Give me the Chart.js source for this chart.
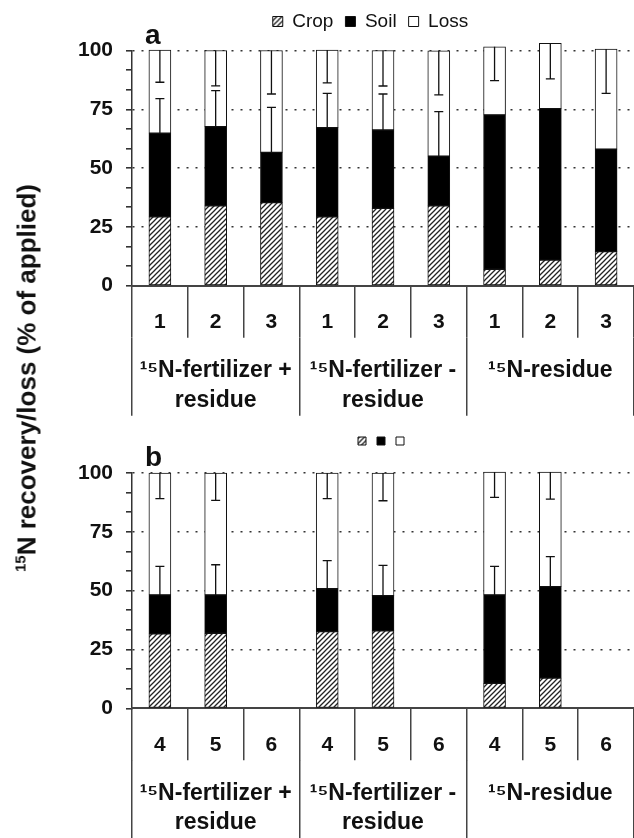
<!DOCTYPE html>
<html>
<head>
<meta charset="utf-8">
<script src="https://cdn.jsdelivr.net/npm/chart.js@4"></script>
<style>
  body { margin: 0; background: #fff; }
  #wrap { position: relative; width: 634px; height: 838px; overflow: hidden; }
  #wrap canvas { position: absolute; left: 0; }
  #ytitle {
    position: absolute; left: 27px; top: 378px;
    transform: translate(-50%, -50%) rotate(-90deg);
    white-space: nowrap; color: #111;
    font: bold 26px "Liberation Sans", Arial, sans-serif;
  }
  #ytitle sup { font-size: 15px; vertical-align: 10px; }
</style>
</head>
<body>
<div id="wrap">
  <canvas id="chartA" width="634" height="419" style="top:0"></canvas>
  <canvas id="chartB" width="634" height="417" style="top:421px"></canvas>
  <div id="ytitle"><sup>15</sup>N recovery/loss (% of applied)</div>
</div>
<script>
// ---- data ----
const seriesNames = ["Crop", "Soil", "Loss"];
const catsA = ["1", "2", "3", "1", "2", "3", "1", "2", "3"];
const catsB = ["4", "5", "6", "4", "5", "6", "4", "5", "6"];
const groups = [["¹⁵N-fertilizer +", "residue"], ["¹⁵N-fertilizer -", "residue"], "¹⁵N-residue"];
const yTicks = [0, 25, 50, 75, 100];
const yMinorStep = 25 / 3;

// panel a (years 1-3)
const cropA = [29.3, 34.0, 35.3, 29.3, 32.9, 34.0, 7.0, 10.9, 14.5];
const soilA = [35.5, 33.6, 21.4, 37.9, 33.3, 21.1, 65.6, 64.4, 43.6];
const lossA = [35.4, 32.4, 43.3, 33.0, 33.8, 44.8, 29.0, 27.7, 42.5];
const soilErrA = [14.7, 15.3, 19.1, 14.6, 15.3, 18.9, null, null, null];
const lossErrA = [13.7, 15.0, 18.5, 14.0, 15.1, 18.8, 14.4, 15.1, 18.8];

// panel b (years 4-6)
const cropB = [31.6, 31.9, null, 32.6, 32.9, null, 10.6, 12.8, null];
const soilB = [16.6, 16.3, null, 18.2, 15.0, null, 37.6, 38.9, null];
const lossB = [51.8, 51.8, null, 49.2, 52.1, null, 52.2, 48.7, null];
const soilErrB = [12.1, 12.8, null, 12.0, 12.8, null, 12.1, 12.8, null];
const lossErrB = [10.9, 11.6, null, 10.9, 11.8, null, 10.8, 11.5, null];

Chart.defaults.font.family = '"Liberation Sans", Arial, sans-serif';
Chart.defaults.color = "#111";

function hatchPattern() {
  const c = document.createElement("canvas");
  c.width = c.height = 5;
  const g = c.getContext("2d");
  g.fillStyle = "#fff";
  g.fillRect(0, 0, 5, 5);
  g.strokeStyle = "#222";
  g.lineWidth = 1.3;
  g.beginPath();
  g.moveTo(0, 5); g.lineTo(5, 0);
  g.moveTo(-1, 1); g.lineTo(1, -1);
  g.moveTo(4, 6); g.lineTo(6, 4);
  g.stroke();
  return g.createPattern(c, "repeat");
}
const hatch = hatchPattern();

const isMajor = (v) => yTicks.some((t) => Math.abs(t - v) < 1e-6);

// error bars: soil SD upwards from soil top, loss SD downwards from stack top
function errorBars(soilErr, lossErr) {
  return {
    id: "errorBars",
    afterDatasetsDraw(chart) {
      const { ctx } = chart;
      const y = chart.scales.y;
      const ds = chart.data.datasets;
      const meta = chart.getDatasetMeta(1);
      const line = (x, y1, y2) => {
        ctx.beginPath();
        ctx.moveTo(x, y1); ctx.lineTo(x, y2);
        ctx.moveTo(x - 4.5, y2); ctx.lineTo(x + 4.5, y2);
        ctx.stroke();
      };
      ctx.save();
      ctx.strokeStyle = "#111";
      ctx.lineWidth = 1.3;
      meta.data.forEach((bar, i) => {
        if (ds[1].data[i] == null) return;
        const soilTop = ds[0].data[i] + ds[1].data[i];
        const total = soilTop + ds[2].data[i];
        if (soilErr[i] != null)
          line(bar.x, y.getPixelForValue(soilTop), y.getPixelForValue(soilTop + soilErr[i]));
        if (lossErr[i] != null)
          line(bar.x, y.getPixelForValue(total), y.getPixelForValue(total - lossErr[i]));
      });
      ctx.restore();
    },
  };
}

function panelTag(txt) {
  return {
    id: "panelTag",
    afterDraw(chart) {
      const { ctx, chartArea } = chart;
      ctx.save();
      ctx.font = 'bold 28px "Liberation Sans", Arial';
      ctx.fillStyle = "#111";
      ctx.textBaseline = "alphabetic";
      ctx.fillText(txt, chartArea.left + 13, chartArea.top - 7);
      ctx.restore();
    },
  };
}

// extra space under the legend, and shift it to sit over the plot
function legendTweak(gap, dx) {
  return {
    id: "legendTweak",
    beforeInit(chart) {
      const lg = chart.legend;
      const fit = lg.fit;
      lg.fit = function () {
        fit.call(this);
        this.height += gap;
      };
      const draw = lg.draw;
      lg.draw = function () {
        this.ctx.save();
        this.ctx.translate(dx, 0);
        draw.call(this);
        this.ctx.restore();
      };
    },
  };
}

function buildPanel(id, p) {
  const common = { borderColor: "#111", borderWidth: 1, borderSkipped: false, barThickness: 22, clip: false };
  return new Chart(document.getElementById(id), {
    type: "bar",
    data: {
      labels: p.cats,
      datasets: [
        { label: seriesNames[0], data: p.crop, backgroundColor: hatch, ...common },
        { label: seriesNames[1], data: p.soil, backgroundColor: "#000", ...common },
        { label: seriesNames[2], data: p.loss, backgroundColor: "#fff", ...common },
      ],
    },
    options: {
      responsive: false,
      animation: false,
      devicePixelRatio: 1,
      layout: { padding: { top: p.padTop, left: 0, right: 0, bottom: p.padBottom } },
      plugins: {
        tooltip: { enabled: false },
        legend: {
          labels: {
            boxWidth: p.box, boxHeight: p.box, padding: p.legPad, color: "#111",
            font: { size: p.legFont },
            generateLabels: (chart) =>
              Chart.defaults.plugins.legend.labels.generateLabels(chart).map((l) => ({ ...l, text: p.legendText ? l.text : "" })),
          },
        },
      },
      scales: {
        y: {
          stacked: true, min: 0, max: 100,
          afterFit: (s) => { s.width = 132; },
          ticks: {
            stepSize: yMinorStep, autoSkip: false, padding: 13, color: "#111",
            font: { size: 21, weight: "bold" },
            callback: (v) => (isMajor(v) ? String(Math.round(v)) : ""),
          },
          grid: {
            color: (c) => (isMajor(c.tick.value) && c.tick.value > 1 ? "#333" : "rgba(0,0,0,0)"),
            tickColor: "#333", tickLength: 6, lineWidth: 1.6,
          },
          border: { color: "#333", width: 1.5, dash: [2, 7] },
        },
        x: {
          stacked: true, weight: 0,
          afterFit: (s) => { s.height = 52; },
          grid: { offset: true, drawOnChartArea: false, tickLength: 52, color: "#444", lineWidth: 1.5 },
          border: { color: "#444", width: 2 },
          ticks: { padding: -28, color: "#111", font: { size: 21, weight: "bold" }, autoSkip: false, maxRotation: 0 },
        },
        x2: {
          type: "category", labels: groups, position: "bottom", offset: true, weight: 1,
          afterFit: (s) => { s.height = p.groupH; },
          grid: { offset: true, drawOnChartArea: false, tickLength: p.groupH, color: "#444", lineWidth: 1.5 },
          border: { display: false },
          ticks: {
            padding: 33 - p.groupH - 14.7, color: "#111", autoSkip: false, maxRotation: 0,
            font: { size: 23, weight: "bold", lineHeight: 1.28 },
          },
        },
      },
    },
    plugins: [legendTweak(p.gap, p.dx), errorBars(p.soilErr, p.lossErr), panelTag(p.tag)],
  });
}

buildPanel("chartA", {
  cats: catsA, crop: cropA, soil: soilA, loss: lossA, soilErr: soilErrA, lossErr: lossErrA,
  tag: "a", legendText: true, box: 10, legPad: 12, legFont: 19, gap: 9.5, dx: 53.5,
  padTop: 0, padBottom: 3.3, groupH: 78,
});
buildPanel("chartB", {
  cats: catsB, crop: cropB, soil: soilB, loss: lossB, soilErr: soilErrB, lossErr: lossErrB,
  tag: "b", legendText: false, box: 8, legPad: 8, legFont: 6, gap: 18, dx: 65.5,
  padTop: 8, padBottom: 0, groupH: 77.7,
});
</script>
</body>
</html>
